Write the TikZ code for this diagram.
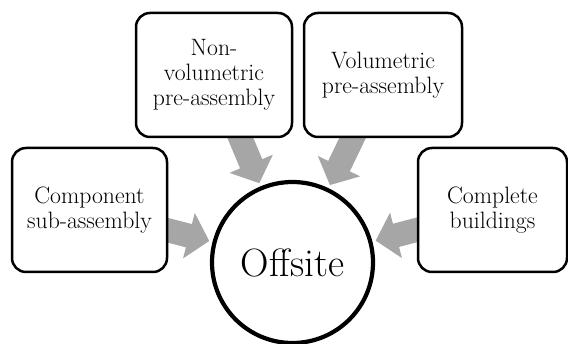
\documentclass[tikz,border=0pt]{standalone}
\usepackage{fontspec}
\usetikzlibrary{calc,backgrounds}
\definecolor{arrowgray}{RGB}{166,166,166}
\tikzset{
  boxnode/.style={draw=black, line width=2.5pt, fill=white, rounded corners=14pt,
    align=center, inner sep=2pt, minimum height=124pt,
    font=\rmfamily\fontsize{23.7}{25}\selectfont},
  hubnode/.style={draw=black, line width=4.2pt, fill=white, circle, inner sep=0pt,
    minimum size=161pt, font=\rmfamily\fontsize{39.5}{42}\selectfont},
  blockarrow/.style={fill=arrowgray, draw=none}
}
\newcommand{\radarrow}[2]{%
  \path ($(#1.center)!86pt!(#2.center)$) coordinate (tp)
        ($(#1.center)!107pt!(#2.center)$) coordinate (hb)
        ($(#1.center)!155pt!(#2.center)$) coordinate (se);
  \fill[blockarrow] (tp)
    -- ($(hb)!23.5pt!90:(#2.center)$)
    -- ($(hb)!12pt!90:(#2.center)$)
    -- ($(se)!12pt!90:(#2.center)$)
    -- ($(se)!12pt!-90:(#2.center)$)
    -- ($(hb)!12pt!-90:(#2.center)$)
    -- ($(hb)!23.5pt!-90:(#2.center)$)
    -- cycle;
}
\begin{document}
\begin{tikzpicture}[x=1pt,y=-1pt]
\useasboundingbox (0,0) rectangle (568,344);
\node[hubnode] (hub) at (292.5,262.5) {Offsite};
\node[boxnode, minimum width=155pt] (comp) at (89.5,210) {Component\\sub-assembly};
\node[boxnode, minimum width=156pt] (nonvol) at (214,75) {Non-\\volumetric\\pre-assembly};
\node[boxnode, minimum width=158pt] (vol) at (383,75) {Volumetric\\pre-assembly};
\node[boxnode, minimum width=149pt] (bldg) at (492.5,210) {Complete\\buildings};
\begin{scope}[on background layer]
  \radarrow{hub}{comp}
  \radarrow{hub}{nonvol}
  \radarrow{hub}{vol}
  \radarrow{hub}{bldg}
\end{scope}
\end{tikzpicture}
\end{document}
